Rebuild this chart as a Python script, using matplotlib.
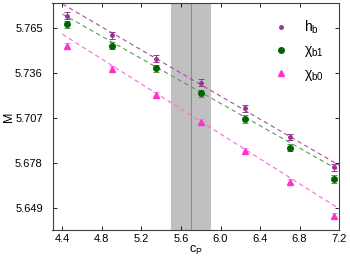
import matplotlib
matplotlib.use("Agg")
import matplotlib.pyplot as plt
from matplotlib.lines import Line2D

plt.rcParams['font.family'] = ['Liberation Sans', 'DejaVu Sans']
plt.rcParams['mathtext.fontset'] = 'custom'
plt.rcParams['mathtext.rm'] = 'Liberation Sans'
plt.rcParams['mathtext.it'] = 'Liberation Sans'

# data
cp = [4.45, 4.9, 5.35, 5.8, 6.25, 6.7, 7.15]
hb = [5.7730, 5.7602, 5.7451, 5.7298, 5.7133, 5.6947, 5.6753]
hb_err = [0.0023, 0.0023, 0.0022, 0.0022, 0.0022, 0.0022, 0.0022]
chib1 = [5.7673, 5.7536, 5.7389, 5.7229, 5.7063, 5.6878, 5.6677]
chib1_err = [0.0024, 0.0023, 0.0023, 0.0023, 0.0023, 0.0023, 0.0023]
chib0 = [5.7536, 5.7385, 5.7219, 5.7046, 5.6857, 5.6656, 5.6441]
chib0_err = [0.0020, 0.0019, 0.0019, 0.0019, 0.0019, 0.0019, 0.0019]

# dashed fit lines (end points)
fit_x = [4.4, 7.2]
hb_fit = [5.7805, 5.6765]
chib1_fit = [5.7740, 5.6732]
chib0_fit = [5.7610, 5.6485]

band = (5.5, 5.9)
band_mid = 5.7

fig = plt.figure(figsize=(3.5, 2.64), dpi=100)
ax = fig.add_axes([0.15, 0.13, 0.819, 0.858])

ax.axvspan(*band, color='#c0c0c0', lw=0, zorder=0)
ax.axvline(band_mid, color='#8c8c8c', lw=0.8, zorder=0.5)

ax.plot(fit_x, hb_fit, color='#a64ca6', lw=0.8, dashes=(4, 3))
ax.plot(fit_x, chib1_fit, color='#5a9a5a', lw=0.8, dashes=(4, 3))
ax.plot(fit_x, chib0_fit, color='#ff66dd', lw=0.8, dashes=(4, 3))

ax.errorbar(cp, hb, yerr=hb_err, fmt='o', ms=2.5, color='#993399',
            ecolor='#8a3f8a', elinewidth=0.7, capsize=2.5, capthick=0.7)
ax.errorbar(cp, chib1, yerr=chib1_err, fmt='o', ms=4, color='#006400',
            ecolor='#5a8f5a', elinewidth=0.7, capsize=2.5, capthick=0.7)
ax.errorbar(cp, chib0, yerr=chib0_err, fmt='^', ms=4, color='#ff33cc',
            ecolor='#ff8ae2', elinewidth=0.7, capsize=2.5, capthick=0.7)

handles = [
    Line2D([], [], ls='none', marker='o', ms=2.5, color='#993399'),
    Line2D([], [], ls='none', marker='o', ms=4, color='#006400'),
    Line2D([], [], ls='none', marker='^', ms=4, color='#ff33cc'),
]
labels = [r'h$_\mathrm{b}$', r'$\chi_\mathrm{b1}$', r'$\chi_\mathrm{b0}$']

ax.set_xlim(4.3, 7.2)
ax.set_ylim(5.635, 5.781)
ax.set_xticks([4.4, 4.8, 5.2, 5.6, 6.0, 6.4, 6.8, 7.2])
ax.set_xticklabels(['4.4', '4.8', '5.2', '5.6', '6.0', '6.4', '6.8', '7.2'])
ax.set_yticks([5.649, 5.678, 5.707, 5.736, 5.765])
ax.tick_params(direction='in', length=3, width=0.6, top=True, right=True,
               labelsize=8)
ax.tick_params(axis='y', pad=7)
ax.tick_params(axis='x', pad=3)
for s in ax.spines.values():
    s.set_linewidth(0.8)
    s.set_color('#404040')

ax.set_xlabel(r'c$_\mathrm{P}$', fontsize=9, labelpad=0)
ax.set_ylabel('M', fontsize=9, labelpad=0)

ax.legend(handles, labels, loc='upper right', frameon=False, fontsize=10,
          handletextpad=1.2, borderaxespad=0.5, labelspacing=0.55,
          handlelength=1.0, borderpad=0.6)

fig.savefig('out.png', dpi=100)
